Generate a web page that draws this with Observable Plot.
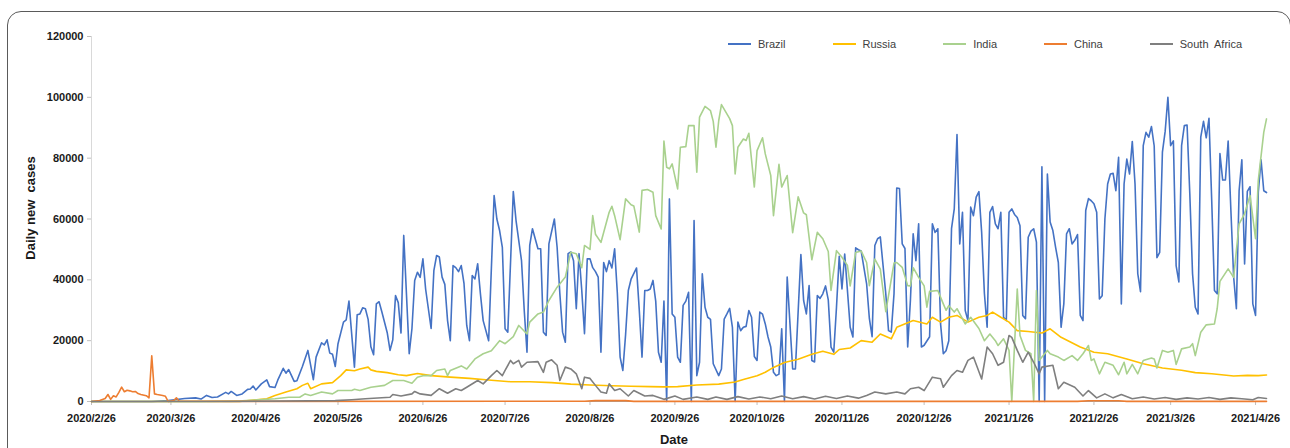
<!DOCTYPE html>
<html>
<head>
<meta charset="utf-8">
<script src="https://cdn.jsdelivr.net/npm/d3@7"></script>
<script src="https://cdn.jsdelivr.net/npm/@observablehq/plot@0.6"></script>
<style>
  html, body { margin: 0; padding: 0; background: #fff; }
  #wrap { position: relative; width: 1290px; height: 448px; overflow: hidden; background: #fff;
          font-family: "Liberation Sans", Arial, sans-serif; }
  #frame { position: absolute; left: 7px; top: 11px; width: 1284px; height: 470px;
           border: 1.5px solid #5a5a5a; border-radius: 14px; box-sizing: border-box; }
  #chart { position: absolute; left: 0; top: 0; }
  #chart svg text { font-weight: bold; fill: #1a1a1a; }
  #chart g[aria-label="y-axis tick"] path, #chart g[aria-label="x-axis tick"] path { stroke: #BFBFBF; }
  #legend { position: absolute; left: 728px; top: 38px; display: flex; gap: 47px; align-items: center;
            font-size: 11px; color: #404040; }
  .item { display: flex; align-items: center; gap: 7px; white-space: pre; }
  .sw { width: 23px; height: 2.5px; }
  #ytitle { position: absolute; left: 30px; top: 208px; transform: translate(-50%, -50%) rotate(-90deg);
            font-size: 13px; font-weight: bold; color: #1a1a1a; white-space: pre; }
  #xtitle { position: absolute; left: 674px; top: 433px; transform: translateX(-50%);
            font-size: 13px; font-weight: bold; color: #1a1a1a; line-height: 13px; }
</style>
</head>
<body>
<div id="wrap">
  <div id="frame"></div>
  <div id="chart"></div>
  <div id="legend"></div>
  <div id="ytitle">Daily new  cases</div>
  <div id="xtitle">Date</div>
</div>
<script>
// ---- data: [day offset from 2020/2/26, daily new cases] ----
const startYMD = [2020, 2, 26];
const lastDay = 429;
const countries = ["Brazil", "Russia", "India", "China", "South  Africa"];
const colors = ["#4472C4", "#FFC000", "#A9D18E", "#ED7D31", "#7F7F7F"];
const xTickLabels = ["2020/2/26","2020/3/26","2020/4/26","2020/5/26","2020/6/26","2020/7/26","2020/8/26",
  "2020/9/26","2020/10/26","2020/11/26","2020/12/26","2021/1/26","2021/2/26","2021/3/26","2021/4/26"];
const yTicks = [0, 20000, 40000, 60000, 80000, 100000, 120000];

const brazil = [[0,0],[22,0],[28,300],[34,1000],[38,1200],[40,800],[42,2000],[44,1300],[46,1500],[49,3000],[50,2500],[51,3300],[53,2000],[55,2500],[57,4000],[58,4100],[59,5100],[60,3800],[62,5800],[64,7100],[65,4900],[67,4600],[68,7000],[70,10900],[71,9300],[72,10500],[74,6600],[75,6800],[77,11500],[79,16800],[81,7200],[82,14600],[84,19300],[85,18600],[86,20300],[87,15900],[88,15500],[89,11500],[90,19000],[92,26100],[93,26800],[94,33000],[96,11300],[97,28500],[98,28800],[99,30800],[100,30500],[101,27000],[102,18000],[103,15400],[104,32100],[105,32800],[106,29500],[108,22500],[109,16800],[110,20300],[111,34800],[112,32500],[113,22500],[114,54600],[116,15700],[117,24000],[118,39800],[119,42500],[120,40800],[121,46900],[122,36900],[124,24000],[125,43000],[126,48000],[127,47500],[128,40900],[129,38500],[130,26600],[131,20000],[132,44700],[133,44000],[134,42700],[135,44700],[136,38800],[137,25000],[138,20000],[139,41400],[140,40300],[141,45300],[142,35400],[143,26600],[145,20000],[147,67700],[148,60000],[149,56200],[150,50700],[151,23900],[152,22800],[154,69000],[155,59500],[157,46300],[158,29900],[159,16200],[160,51300],[161,56800],[162,53500],[163,50200],[164,50200],[165,22800],[166,21700],[167,51800],[169,60000],[170,50700],[171,35400],[172,22800],[173,19500],[174,48600],[175,49200],[176,46300],[177,30500],[178,48600],[179,36500],[180,22300],[181,46900],[182,46900],[183,44000],[184,42700],[185,40900],[186,16200],[187,45700],[188,42700],[189,46300],[190,43900],[191,50200],[192,35400],[193,14600],[194,10200],[195,22000],[196,36500],[197,40200],[199,43900],[200,30000],[201,14600],[202,36500],[203,36500],[204,37000],[205,39800],[206,33000],[207,16200],[208,12900],[209,33000],[210,0],[211,66600],[212,28800],[213,27700],[214,14600],[215,12900],[216,31600],[217,33000],[218,35900],[219,0],[220,59500],[221,8500],[222,12900],[223,42000],[224,31000],[225,27700],[226,27000],[227,12400],[229,8500],[230,10700],[231,27100],[232,28800],[233,30600],[234,24400],[235,0],[236,26100],[237,23300],[238,24400],[239,24700],[240,29900],[241,27700],[242,14800],[243,13500],[244,29400],[245,28700],[246,25500],[247,21200],[248,17900],[249,9600],[250,8500],[251,9000],[252,23900],[253,0],[254,40900],[256,10700],[257,10700],[259,48300],[260,33200],[261,28800],[262,38100],[263,13500],[264,13000],[265,34800],[266,33900],[267,35400],[268,38000],[269,33400],[270,17900],[271,16200],[272,31000],[273,47700],[274,37000],[275,48500],[277,24400],[278,21200],[279,50500],[280,49900],[281,49500],[283,38700],[284,27300],[285,21300],[286,51300],[287,53500],[288,54100],[290,35400],[291,23300],[292,22800],[293,35400],[294,70200],[295,70000],[296,51800],[297,50300],[298,17900],[299,33400],[300,55100],[301,46300],[302,58400],[303,17900],[304,18500],[306,21300],[307,58400],[308,55600],[309,56800],[310,25500],[311,15700],[312,16700],[313,20000],[314,56800],[315,63300],[316,87800],[317,51800],[318,62200],[319,29900],[320,26600],[321,63900],[322,61100],[323,67200],[324,69000],[325,55600],[326,35600],[327,24400],[328,62200],[329,64100],[330,58400],[331,56800],[332,62200],[333,27700],[334,26600],[335,62200],[336,63300],[337,61500],[338,60500],[339,57800],[340,28300],[341,27200],[342,54000],[343,56000],[344,56800],[345,52400],[346,0],[347,77200],[348,0],[349,74800],[350,59000],[351,56200],[352,50700],[353,45700],[354,24400],[355,32100],[356,55100],[357,56800],[358,51800],[359,53000],[360,54900],[361,28300],[362,26600],[363,62800],[364,66700],[365,66000],[366,65000],[367,62200],[368,33700],[369,34800],[370,60000],[371,71500],[372,74800],[373,75000],[374,69300],[375,80300],[376,32100],[377,71500],[378,79700],[379,74800],[380,85500],[381,71500],[382,42000],[383,36100],[384,84100],[385,88500],[386,86900],[387,90400],[388,84000],[389,47300],[390,49000],[391,82000],[392,88800],[393,100000],[394,84100],[395,85700],[396,44700],[397,39300],[398,84100],[399,90700],[400,90900],[401,68200],[402,42000],[403,31000],[404,28800],[405,86900],[406,92100],[407,86700],[408,93100],[409,66000],[410,36500],[411,35400],[412,81500],[413,72800],[414,72800],[415,85600],[416,62800],[417,41000],[418,30500],[419,69300],[420,79500],[421,45200],[422,69100],[423,70600],[424,32100],[425,28300],[426,68700],[427,79500],[428,69300],[429,68700]];

const russia = [[0,0],[54,0],[64,900],[67,2000],[71,3100],[75,4200],[77,5300],[79,6000],[80,4200],[84,5800],[88,6200],[91,8500],[93,10400],[96,10100],[98,10700],[101,11300],[102,10400],[104,9900],[108,9500],[112,8800],[115,8500],[119,9200],[124,8500],[131,8000],[138,7600],[146,7000],[153,6500],[160,6500],[168,6200],[175,5700],[182,5400],[190,5200],[197,5000],[204,4900],[209,4800],[214,4900],[221,5400],[229,5700],[235,6400],[238,7200],[243,8500],[246,9600],[249,11200],[253,12800],[258,13900],[263,15500],[267,16500],[271,15500],[273,17100],[277,17600],[281,20000],[285,19500],[288,22200],[292,20600],[294,24400],[300,26600],[305,25500],[307,27700],[310,26100],[313,27700],[316,28300],[320,26100],[324,27700],[327,28300],[329,29400],[332,27700],[335,26100],[338,23300],[342,23000],[347,22500],[350,23900],[354,21100],[361,17900],[366,16200],[371,15700],[378,14000],[384,12400],[391,11000],[398,10300],[403,9500],[409,9100],[417,8400],[422,8600],[426,8500],[429,8700]];

const india = [[0,0],[40,0],[55,200],[67,900],[72,1400],[76,1400],[78,2500],[80,2000],[84,3100],[88,2500],[90,3600],[95,3600],[96,4000],[98,3600],[102,4700],[107,5300],[110,6900],[114,6900],[117,6000],[119,8000],[121,8500],[124,8500],[126,10200],[129,10700],[130,8500],[131,10200],[135,11700],[137,10700],[140,14000],[143,15700],[146,16700],[149,20000],[151,19000],[154,21300],[156,25000],[159,22200],[160,26100],[163,28800],[165,29400],[167,33200],[170,37600],[173,40900],[175,49100],[177,48600],[179,44000],[180,51300],[182,50000],[183,61100],[184,55000],[186,52300],[189,62200],[190,64200],[191,61100],[193,53200],[195,66600],[197,64700],[198,64300],[200,55700],[201,69400],[203,69700],[205,68800],[206,61100],[208,56700],[209,85600],[210,77000],[211,76500],[212,78100],[214,69900],[215,83600],[217,83800],[218,90700],[220,90700],[221,75400],[222,93500],[224,97000],[226,95600],[227,92100],[228,83600],[229,92300],[230,97600],[233,93000],[234,90700],[235,74800],[236,83600],[238,86300],[239,85800],[240,88200],[242,70500],[243,82500],[245,86700],[246,81400],[248,74300],[249,61100],[251,78000],[252,70500],[254,74300],[256,55500],[258,67300],[260,62000],[261,61400],[263,46600],[265,55600],[267,53500],[269,49300],[270,36500],[272,49600],[274,47400],[276,44700],[277,38000],[279,49000],[281,49500],[283,45700],[284,38100],[286,46800],[288,43500],[289,36500],[290,29500],[293,45500],[294,45700],[296,44100],[298,38100],[299,38000],[300,44000],[302,40800],[304,38000],[305,31000],[306,36200],[309,36500],[311,32100],[312,30000],[313,31500],[315,29400],[316,30500],[319,25500],[321,27700],[324,24000],[326,20000],[328,22200],[330,20000],[331,18400],[333,20600],[335,16800],[336,0],[338,37000],[339,21700],[341,16800],[343,15700],[344,0],[345,36500],[346,13500],[347,14600],[349,16800],[350,15700],[353,14600],[355,13500],[358,15100],[360,13500],[362,15700],[364,18400],[365,13500],[366,14000],[368,9100],[370,12900],[373,11900],[375,8800],[377,12900],[378,9100],[380,12200],[382,9100],[384,13500],[387,14300],[388,14000],[389,11000],[391,16800],[393,16200],[395,16800],[396,12200],[398,17300],[401,17900],[402,19000],[403,15100],[405,22800],[407,25200],[410,25500],[411,30500],[412,39500],[415,43600],[417,40800],[419,58400],[421,61700],[423,67700],[425,53500],[426,72700],[428,88500],[429,92900]];

const china = [[0,0],[3,300],[5,1000],[6,2300],[7,700],[8,1900],[9,1500],[10,3000],[11,4700],[12,3200],[13,3700],[14,3500],[15,3200],[16,3300],[17,2600],[18,2300],[20,1900],[21,1200],[22,15000],[23,2500],[24,2300],[26,2000],[27,1700],[28,0],[30,300],[31,1200],[32,100],[40,100],[60,50],[180,100],[184,300],[195,300],[198,50],[360,50],[364,250],[375,250],[378,50],[429,30]];

const southAfrica = [[0,0],[50,0],[89,300],[95,600],[100,900],[109,1400],[110,2300],[113,1800],[117,2500],[118,3300],[120,2500],[124,2000],[127,4200],[130,2700],[133,4200],[135,3600],[137,4700],[141,6900],[143,5800],[146,8500],[148,10200],[150,8500],[151,10200],[153,13500],[154,12400],[156,13500],[157,11300],[159,12900],[163,13100],[165,9600],[166,12900],[168,13700],[170,11900],[171,6900],[173,11300],[175,10700],[177,9100],[179,4200],[180,8000],[182,7600],[184,5300],[186,3100],[188,2700],[189,5800],[191,3600],[193,4200],[196,1800],[198,3600],[202,1800],[205,2000],[209,700],[213,1800],[216,700],[221,1500],[225,700],[228,1500],[232,700],[236,1600],[240,800],[244,1500],[248,900],[252,1800],[256,900],[260,1600],[264,800],[268,1700],[272,1000],[276,1800],[280,1100],[283,2000],[286,3100],[290,2500],[294,3100],[297,2500],[299,4200],[302,4700],[304,3600],[307,8000],[310,7500],[311,4700],[314,8500],[316,10200],[318,9600],[320,13500],[322,14600],[325,7400],[327,17900],[329,15700],[331,11900],[333,12900],[335,21700],[336,21100],[338,16800],[340,12900],[342,16200],[344,12900],[346,9100],[347,11300],[351,11900],[353,4200],[355,6300],[359,4700],[362,1800],[364,3600],[367,1200],[370,2500],[373,1200],[376,2300],[380,900],[384,1500],[388,800],[392,1300],[396,700],[400,1200],[404,800],[408,1300],[412,700],[416,1200],[420,900],[424,600],[426,1300],[429,1000]];

// ---- build ----
const t0 = new Date(Date.UTC(startYMD[0], startYMD[1] - 1, startYMD[2]));
const toDate = d => d3.utcDay.offset(t0, d);
const seriesData = [brazil, russia, india, china, southAfrica].map((arr, i) =>
  arr.map(([d, v]) => ({country: countries[i], date: toDate(d), cases: v})));
const xTicks = xTickLabels.map(s => { const [y, m, d] = s.split("/").map(Number); return new Date(Date.UTC(y, m - 1, d)); });
const fmt = d3.utcFormat("%Y/%-m/%-d");

const chart = Plot.plot({
  width: 1290, height: 448,
  marginLeft: 91, marginRight: 24, marginTop: 36, marginBottom: 47,
  style: {fontFamily: "'Liberation Sans', Arial, sans-serif", fontSize: "11px", background: "transparent", overflow: "visible"},
  x: {type: "utc", domain: [toDate(0), toDate(lastDay)]},
  y: {domain: [0, 120000]},
  marks: [
    Plot.ruleX([toDate(0)], {stroke: "#D9D9D9", strokeWidth: 1}),
    Plot.ruleY([0], {stroke: "#A6A6A6", strokeWidth: 1}),
    Plot.axisY({ticks: yTicks, tickFormat: d => String(d), tickSize: 4, tickPadding: 4, label: null}),
    Plot.axisX({ticks: xTicks, tickFormat: fmt, tickSize: 4, tickPadding: 9, label: null}),
    ...seriesData.map((rows, i) => Plot.line(rows, {x: "date", y: "cases", stroke: colors[i], strokeWidth: 1.6, curve: "linear"}))
  ]
});
document.getElementById("chart").appendChild(chart);

// legend
const lg = document.getElementById("legend");
countries.forEach((c, i) => {
  const it = document.createElement("div"); it.className = "item";
  const sw = document.createElement("div"); sw.className = "sw"; sw.style.background = colors[i];
  const tx = document.createElement("span"); tx.textContent = c;
  it.appendChild(sw); it.appendChild(tx); lg.appendChild(it);
});
</script>
</body>
</html>
